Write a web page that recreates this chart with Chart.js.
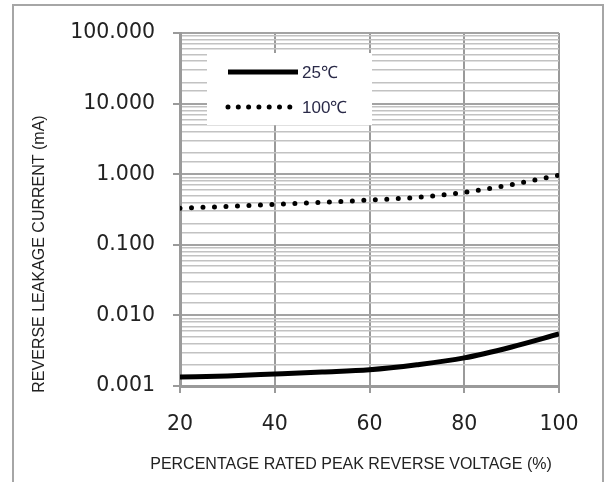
<!DOCTYPE html>
<html>
<head>
<meta charset="utf-8">
<script src="https://cdn.jsdelivr.net/npm/chart.js@4"></script>
<style>
  html, body { margin: 0; padding: 0; background: #fff; }
  #wrap { width: 615px; height: 482px; }
</style>
</head>
<body>
<div id="wrap"><canvas id="myChart" width="615" height="482"></canvas></div>
<script>
// data
const voltagePct = [20, 30, 40, 50, 60, 70, 80, 90, 100];
const leak25 = [0.00134, 0.00139, 0.00148, 0.00158, 0.0017, 0.002, 0.0025, 0.00357, 0.00545];
const leak100 = [0.33, 0.35, 0.375, 0.40, 0.43, 0.47, 0.555, 0.714, 0.97];
const seriesLabels = ['25\u2103', '100\u2103'];
const xTicks = [20, 40, 60, 80, 100];

const xTitle = 'PERCENTAGE RATED PEAK REVERSE VOLTAGE (%)';
const yTitle = 'REVERSE LEAKAGE CURRENT (mA)';

const isDecade = v => {
    const l = Math.log10(v);
    return Math.abs(l - Math.round(l)) < 1e-9;
};

// frame, axis titles and the boxed legend
const decor = {
    id: 'decor',
    beforeDraw(chart) {
        const ctx = chart.ctx;
        ctx.save();
        ctx.fillStyle = '#fff';
        ctx.fillRect(0, 0, chart.width, chart.height);
        ctx.strokeStyle = '#a6a6a6';
        ctx.lineWidth = 2;
        ctx.strokeRect(13, 5, 590, 500);
        ctx.restore();
    },
    afterDraw(chart) {
        const ctx = chart.ctx;
        ctx.save();
        ctx.fillStyle = '#222';
        ctx.textAlign = 'center';
        ctx.textBaseline = 'middle';
        ctx.font = '16px "Liberation Sans", Arial, sans-serif';
        ctx.fillText(xTitle, 351, 465, 402);
        ctx.translate(40, 254);
        ctx.rotate(-Math.PI / 2);
        ctx.fillText(yTitle, 0, 0, 318);
        ctx.restore();

        // legend
        ctx.save();
        ctx.fillStyle = '#fff';
        ctx.fillRect(207, 53, 165, 72);
        const rows = [72, 107];
        chart.data.datasets.forEach((ds, i) => {
            const y = rows[i];
            ctx.strokeStyle = ds.borderColor;
            ctx.lineWidth = ds.borderWidth;
            ctx.lineCap = ds.borderCapStyle || 'butt';
            ctx.setLineDash(i === 0 ? [] : [0, 10.3]);
            ctx.beginPath();
            ctx.moveTo(228, y);
            ctx.lineTo(i === 0 ? 298 : 292, y);
            ctx.stroke();
            ctx.setLineDash([]);
            ctx.fillStyle = '#2a2a48';
            ctx.font = '17px "Liberation Sans", Arial, sans-serif';
            ctx.textAlign = 'left';
            ctx.textBaseline = 'middle';
            ctx.fillText(ds.label, 302, y + 1);
        });
        ctx.restore();
    }
};

const tickFont = { family: '"DejaVu Sans", sans-serif', size: 20.5 };

new Chart(document.getElementById('myChart'), {
    type: 'line',
    data: {
        labels: voltagePct,
        datasets: [{
            label: seriesLabels[0],
            data: voltagePct.map((x, i) => ({ x, y: leak25[i] })),
            borderColor: '#000',
            borderWidth: 5,
            pointRadius: 0,
            cubicInterpolationMode: 'monotone'
        }, {
            label: seriesLabels[1],
            data: voltagePct.map((x, i) => ({ x, y: leak100[i] })),
            borderColor: '#000',
            borderWidth: 5,
            borderDash: [0, 11.5],
            borderCapStyle: 'round',
            pointRadius: 0,
            cubicInterpolationMode: 'monotone'
        }]
    },
    options: {
        responsive: false,
        animation: false,
        layout: { padding: { top: 33, right: 56, left: 0, bottom: 0 } },
        plugins: { legend: { display: false }, tooltip: { enabled: false } },
        scales: {
            x: {
                type: 'linear',
                min: 20,
                max: 100,
                afterFit: s => { s.height = 96; },
                afterBuildTicks: s => { s.ticks = xTicks.map(v => ({ value: v })); },
                border: { color: '#9a9a9a', width: 3 },
                grid: { color: '#9a9a9a', lineWidth: 2, tickLength: 7, tickColor: '#9a9a9a' },
                ticks: { font: tickFont, color: '#222', padding: 19 }
            },
            y: {
                type: 'logarithmic',
                min: 0.001,
                max: 100,
                afterFit: s => { s.width = 180; },
                border: { color: '#9a9a9a', width: 3 },
                grid: {
                    color: c => (c.tick && isDecade(c.tick.value)) ? '#a3a3a3' : '#c2c2c2',
                    lineWidth: c => (c.tick && isDecade(c.tick.value)) ? 2 : 1.5,
                    tickLength: 7,
                    tickColor: c => (c.tick && isDecade(c.tick.value)) ? '#9a9a9a' : 'rgba(0,0,0,0)'
                },
                ticks: {
                    autoSkip: false,
                    font: tickFont,
                    color: '#222',
                    padding: 18,
                    callback: v => isDecade(v) ? Number(v).toFixed(3) : ''
                }
            }
        }
    },
    plugins: [decor]
});
</script>
</body>
</html>
